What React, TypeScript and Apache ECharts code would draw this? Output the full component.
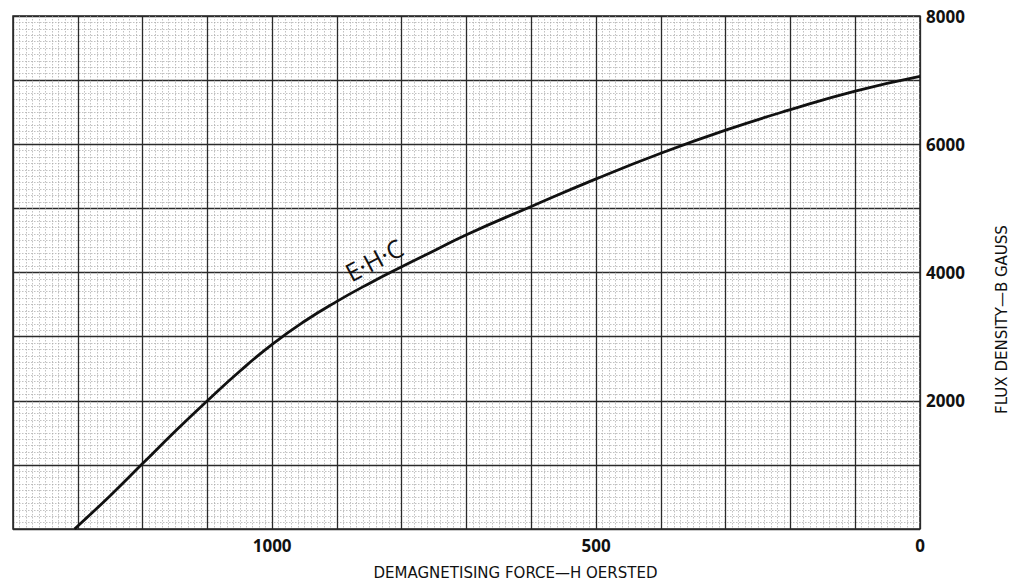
import React, { useEffect, useRef } from "react";
import * as echarts from "echarts";

const hValues = [1305, 1250, 1200, 1150, 1100, 1050, 1000, 950, 900, 850, 800, 750, 700, 600, 500, 400, 300, 200, 100, 0];
const bValues = [0, 520, 1020, 1520, 2000, 2460, 2880, 3240, 3550, 3830, 4090, 4340, 4590, 5030, 5460, 5860, 6220, 6540, 6830, 7060];
const xTickLabels = [0, 500, 1000];
const yTickLabels = [2000, 4000, 6000, 8000];
const curveName = "E·H·C";
const curveLabelAt = [843, 4200];

const FONT = "'Open Sans', 'DejaVu Sans', sans-serif";
const NAME_FONT = "'DejaVu Sans', 'Open Sans', sans-serif";

export default function App() {
  const ref = useRef<HTMLDivElement>(null);
  useEffect(() => {
    document.body.style.margin = "0";
    const chart = echarts.init(ref.current!, null, { renderer: "svg" });
    const data = hValues.map((h, i) => [h, bValues[i]]);
    chart.setOption({
      animation: false,
      backgroundColor: "#ffffff",
      grid: { left: 13, right: 99, top: 16, bottom: 51, show: true, borderColor: "#222", borderWidth: 1.5 },
      xAxis: {
        type: "value",
        inverse: true,
        min: 0,
        max: 1400,
        interval: 100,
        name: "DEMAGNETISING FORCE—H OERSTED",
        nameLocation: "middle",
        nameGap: 36,
        nameTextStyle: { fontFamily: NAME_FONT, fontSize: 15, color: "#111", align: "center", padding: [0, 0, 0, 98] },
        axisLine: { show: false },
        axisTick: { show: false },
        axisLabel: {
          color: "#111",
          fontFamily: FONT,
          fontSize: 17,
          fontWeight: "bold",
          margin: 8,
          formatter: (v: number) => (xTickLabels.includes(v) ? String(v) : ""),
        },
        splitLine: { show: true, lineStyle: { color: "#2a2a2a", width: 1.3 } },
        minorTick: { show: false, splitNumber: 10 },
        minorSplitLine: { show: true, lineStyle: { color: "#a8a8a8", width: 0.7, type: [1.5, 1.5] } },
      },
      yAxis: {
        type: "value",
        position: "right",
        min: 0,
        max: 8000,
        interval: 1000,
        name: "FLUX DENSITY—B GAUSS",
        nameLocation: "middle",
        nameGap: 74,
        nameRotate: 90,
        nameTextStyle: { fontFamily: NAME_FONT, fontSize: 15, color: "#111", align: "center", padding: [0, 94, 0, 0] },
        axisLine: { show: false },
        axisTick: { show: false },
        axisLabel: {
          color: "#111",
          fontFamily: FONT,
          fontSize: 17,
          fontWeight: "bold",
          margin: 6,
          formatter: (v: number) => (yTickLabels.includes(v) ? String(v) : ""),
        },
        splitLine: { show: true, lineStyle: { color: "#2a2a2a", width: 1.3 } },
        minorTick: { show: false, splitNumber: 10 },
        minorSplitLine: { show: true, lineStyle: { color: "#a8a8a8", width: 0.7, type: [1.5, 1.5] } },
      },
      series: [
        {
          type: "line",
          name: curveName,
          data,
          smooth: 0.5,
          showSymbol: false,
          lineStyle: { color: "#111", width: 2.8 },
          markPoint: {
            symbol: "circle",
            symbolSize: 0,
            data: [
              {
                coord: curveLabelAt,
                label: {
                  show: true,
                  formatter: curveName,
                  rotate: 28,
                  fontSize: 25,
                  fontWeight: 500,
                  fontFamily: FONT,
                  color: "#111",
                  position: "inside",
                },
              },
            ],
          },
        },
      ],
    });
    return () => chart.dispose();
  }, []);
  return <div ref={ref} style={{ width: 1019, height: 585 }} />;
}
